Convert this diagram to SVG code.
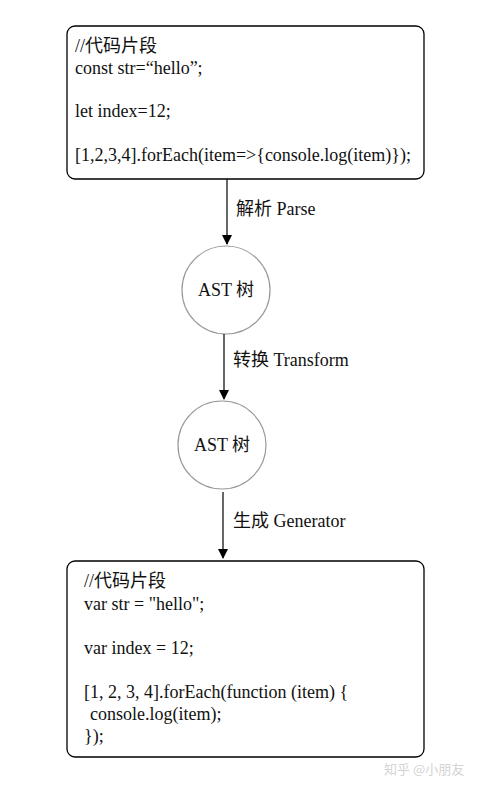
<svg xmlns="http://www.w3.org/2000/svg" width="485" height="790" viewBox="0 0 485 790">
<style>
text{font-family:"Liberation Serif","Noto Sans CJK SC",serif;font-size:18px;fill:#111}
.box{fill:#fff;stroke:#000;stroke-width:1.3}
.circ{fill:#fff;stroke:#999;stroke-width:1.2}
.edge{stroke:#000;stroke-width:1.2;fill:none}
.wm{font-family:"Noto Sans CJK SC",sans-serif;font-size:13px;fill:#d4d4d4}
</style>
<defs>
<marker id="ah" markerWidth="10" markerHeight="10" refX="9" refY="5" orient="auto" markerUnits="userSpaceOnUse">
<path d="M0,0 L10,5 L0,10 Z" fill="#000"/>
</marker>
</defs>
<rect width="485" height="790" fill="#fff"/>
<g id="src">
<rect class="box" x="67" y="26" width="357" height="153" rx="8"/>
<text x="75" y="52">//代码片段</text>
<text x="75" y="74">const str=“hello”;</text>
<text x="75" y="117">let index=12;</text>
<text x="75" y="161">[1,2,3,4].forEach(item=&gt;{console.log(item)});</text>
</g>
<g id="ast1">
<circle class="circ" cx="226" cy="290" r="44"/>
<text x="226" y="296" text-anchor="middle">AST 树</text>
</g>
<g id="ast2">
<circle class="circ" cx="222" cy="445" r="44"/>
<text x="222" y="451" text-anchor="middle">AST 树</text>
</g>
<g id="out">
<rect class="box" x="67" y="561" width="357" height="196" rx="8"/>
<text x="84" y="587">//代码片段</text>
<text x="84" y="610">var str = "hello";</text>
<text x="84" y="654">var index = 12;</text>
<text x="84" y="698">[1, 2, 3, 4].forEach(function (item) {</text>
<text x="90" y="720">console.log(item);</text>
<text x="84" y="742">});</text>
</g>
<g id="edges">
<line class="edge" x1="227" y1="179" x2="227" y2="244" marker-end="url(#ah)"/>
<text x="236" y="215">解析 Parse</text>
<line class="edge" x1="224" y1="334" x2="224" y2="399" marker-end="url(#ah)"/>
<text x="233" y="366">转换 Transform</text>
<line class="edge" x1="223" y1="492" x2="223" y2="558" marker-end="url(#ah)"/>
<text x="233" y="527">生成 Generator</text>
</g>
<text class="wm" x="384" y="774">知乎 @小朋友</text>
</svg>
